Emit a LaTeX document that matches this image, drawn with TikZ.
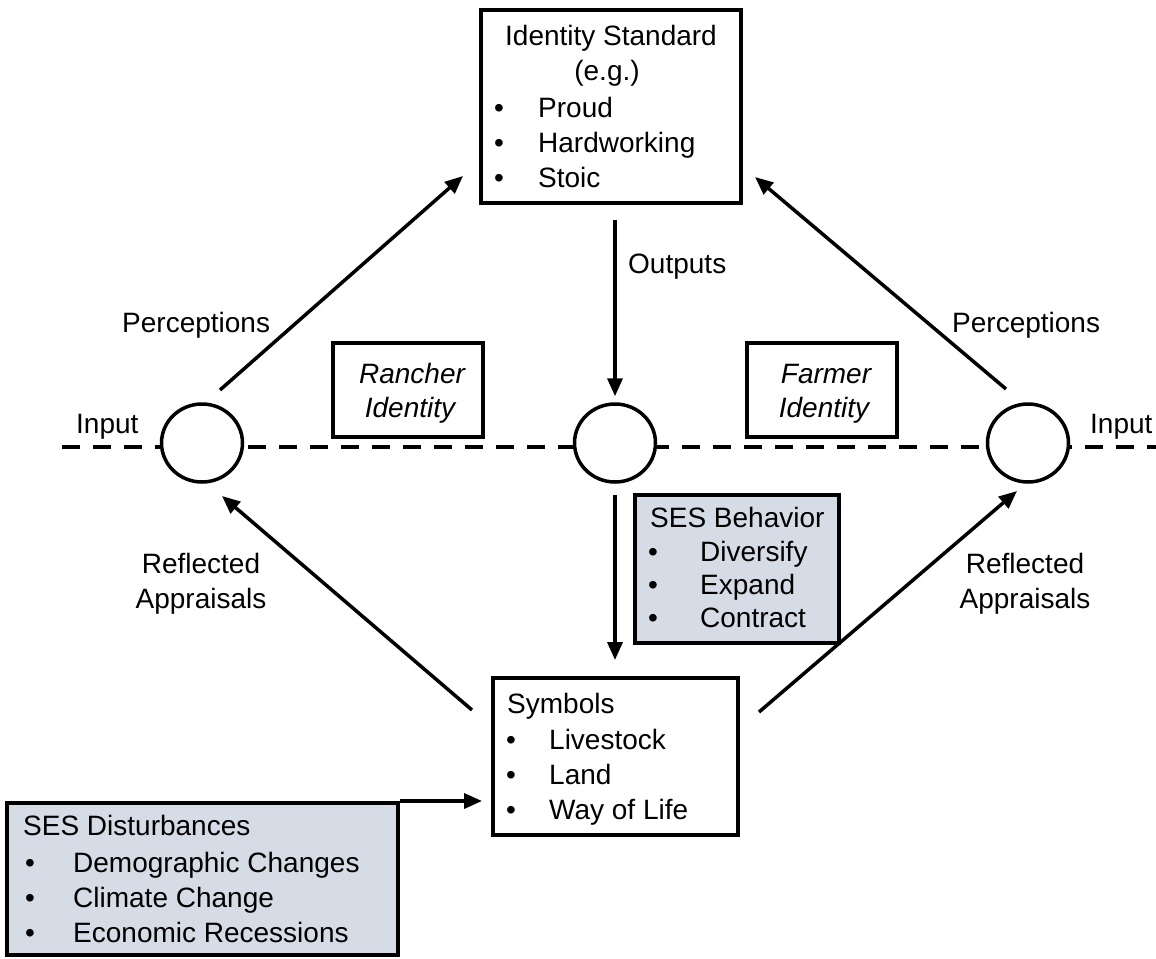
\documentclass[tikz,border=0pt]{standalone}
\usepackage{fontspec}
\setmainfont{Liberation Sans}
\usetikzlibrary{arrows.meta,shapes.geometric}
\definecolor{sesfill}{HTML}{D6DCE5}
\begin{document}
\begin{tikzpicture}[x=1pt,y=-1pt,
  txt/.style={font=\fontsize{28}{34}\selectfont, inner sep=0pt},
  lw/.style={txt, anchor=base west},
  lc/.style={txt, anchor=base},
  boxn/.style={draw, line width=4pt, rectangle, inner sep=0pt},
  sesbox/.style={boxn, fill=sesfill},
  summ/.style={draw, line width=3.5pt, ellipse, fill=white, minimum width=81pt, minimum height=78pt, inner sep=0pt},
  arr/.style={line width=3.5pt, -{Triangle[length=18pt,width=15pt]}},
]
\useasboundingbox (0,0) rectangle (1156,958);

% dashed input line
\coordinate (dl) at (62,447);
\coordinate (dr) at (1156,447);
\draw[line width=4pt, dash pattern=on 18pt off 13pt] (dl) -- (dr);

% comparators
\node[summ] (cL) at (202,443) {};
\node[summ] (cM) at (615,443) {};
\node[summ] (cR) at (1028,443) {};

% boxes
\node[boxn, minimum width=260pt, minimum height=193pt] (top) at (611,106.5) {};
\node[boxn, minimum width=150pt, minimum height=94pt] (ranch) at (408,390) {};
\node[boxn, minimum width=150pt, minimum height=94pt] (farm) at (822,390) {};
\node[sesbox, minimum width=204pt, minimum height=148pt] (beh) at (737,569) {};
\node[boxn, minimum width=245pt, minimum height=157pt] (sym) at (615.5,756.5) {};
\node[sesbox, minimum width=391pt, minimum height=152pt] (dist) at (202.5,879) {};

% top box text
\node[lc] (t1) at (611,46) {Identity Standard};
\node[lc] (t2) at (607,81) {(e.g.)};
\node[lc] (tb1) at (499,117) {\textbullet};
\node[lc] (tb2) at (499,152) {\textbullet};
\node[lc] (tb3) at (499,187) {\textbullet};
\node[lw] (ti1) at (538,117) {Proud};
\node[lw] (ti2) at (538,152) {Hardworking};
\node[lw] (ti3) at (538,187) {Stoic};

% identity boxes text
\node[lc] (r1) at (412,383) {\itshape Rancher};
\node[lc] (r2) at (410,417) {\itshape Identity};
\node[lc] (f1) at (826,383) {\itshape Farmer};
\node[lc] (f2) at (824,417) {\itshape Identity};

% SES behavior text
\node[lw] (b0) at (650,527) {SES Behavior};
\node[lc] (bb1) at (653,561) {\textbullet};
\node[lc] (bb2) at (653,594) {\textbullet};
\node[lc] (bb3) at (653,627) {\textbullet};
\node[lw] (bi1) at (700,561) {Diversify};
\node[lw] (bi2) at (700,594) {Expand};
\node[lw] (bi3) at (700,627) {Contract};

% symbols text
\node[lw] (s0) at (507,713) {Symbols};
\node[lc] (sb1) at (511,749) {\textbullet};
\node[lc] (sb2) at (511,784) {\textbullet};
\node[lc] (sb3) at (511,819) {\textbullet};
\node[lw] (si1) at (549,749) {Livestock};
\node[lw] (si2) at (549,784) {Land};
\node[lw] (si3) at (549,819) {Way of Life};

% disturbances text
\node[lw] (d0) at (23,835) {SES Disturbances};
\node[lc] (db1) at (30,872) {\textbullet};
\node[lc] (db2) at (30,907) {\textbullet};
\node[lc] (db3) at (30,942) {\textbullet};
\node[lw] (di1) at (73,872) {Demographic Changes};
\node[lw] (di2) at (73,907) {Climate Change};
\node[lw] (di3) at (73,942) {Economic Recessions};

% labels
\node[lw] (inL) at (76,433) {Input};
\node[lw] (inR) at (1090,433) {Input};
\node[lw] (pL) at (122,332) {Perceptions};
\node[lw] (pR) at (952,332) {Perceptions};
\node[lw] (out) at (628,273) {Outputs};
\node[lc] (raL1) at (201,573) {Reflected};
\node[lc] (raL2) at (201,608) {Appraisals};
\node[lc] (raR1) at (1025,573) {Reflected};
\node[lc] (raR2) at (1025,608) {Appraisals};

% connector end points
\coordinate (pL1) at (220,390);
\coordinate (pL2) at (463,176);
\coordinate (pR1) at (1006,389);
\coordinate (pR2) at (755,177);
\coordinate (rL1) at (472,710);
\coordinate (rL2) at (222,496);
\coordinate (rR1) at (759,712);
\coordinate (rR2) at (1017,491);

% connectors
\draw[arr] (pL1) -- (pL2);
\draw[arr] (pR1) -- (pR2);
\draw[arr] (rL1) -- (rL2);
\draw[arr] (rR1) -- (rR2);
\draw[arr, shorten <=15pt, shorten >=6pt] (top.south -| cM) -- (cM.north);
\draw[arr, shorten <=11pt, shorten >=16pt] (cM.south) -- (sym.north -| cM);
\draw[arr, shorten >=9pt] (dist.north east) -- (sym.west |- dist.north east);
\end{tikzpicture}
\end{document}
